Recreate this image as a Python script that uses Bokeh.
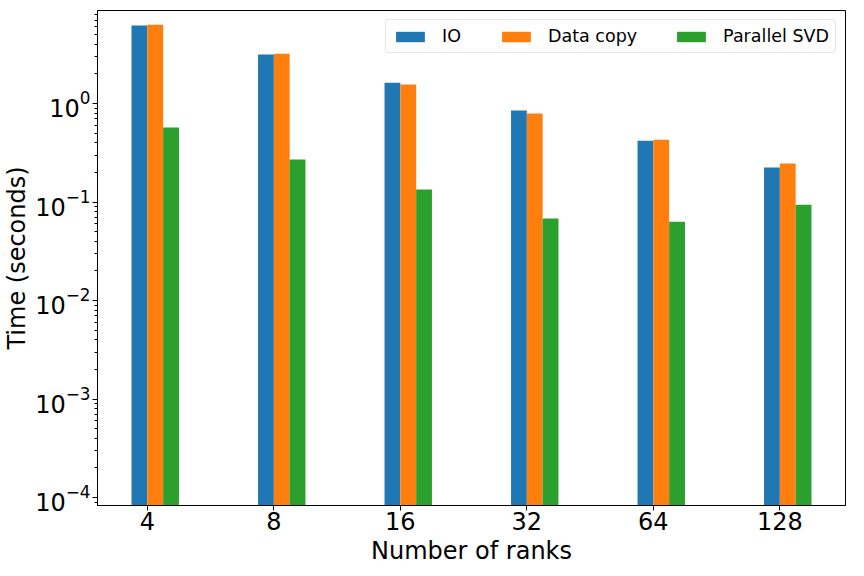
from bokeh.plotting import figure
from bokeh.models import Range1d, ColumnDataSource, Legend, LegendItem, FixedTicker
from bokeh.transform import dodge
from bokeh.embed import file_html
from bokeh.resources import INLINE

ranks = ["4", "8", "16", "32", "64", "128"]
io_time = [6.2, 3.15, 1.63, 0.85, 0.42, 0.224]
copy_time = [6.3, 3.2, 1.56, 0.79, 0.43, 0.246]
svd_time = [0.57, 0.27, 0.134, 0.068, 0.063, 0.094]
series_names = ["IO", "Data copy", "Parallel SVD"]
colors = ["#1f77b4", "#ff7f0e", "#2ca02c"]

FONT = "DejaVu Sans"
BAR_W = 0.125

pos = list(range(len(ranks)))
src = ColumnDataSource(dict(pos=pos, io=io_time, copy=copy_time, svd=svd_time))

p = figure(
    width=848, height=567,
    x_range=Range1d(-0.394, 5.519),
    y_range=Range1d(8.3e-5, 8.8),
    y_axis_type="log",
    output_backend="svg", toolbar_location=None,
    min_border_left=94, min_border_right=3, min_border_top=10, min_border_bottom=62,
)

renderers = []
for key, off, col in zip(["io", "copy", "svd"], [-0.5 * BAR_W, 0.5 * BAR_W, 1.5 * BAR_W], colors):
    r = p.vbar(x=dodge("pos", off), top=key, bottom=1e-6, width=BAR_W,
               source=src, fill_color=col, line_color=None)
    renderers.append(r)

legend = Legend(items=[LegendItem(label=n, renderers=[r]) for n, r in zip(series_names, renderers)],
                location="top_right", orientation="horizontal")
legend.label_text_font = FONT
legend.label_text_font_size = "17.5px"
legend.label_text_color = "black"
legend.glyph_width = 36
legend.glyph_height = 13
legend.label_standoff = 14
legend.spacing = 36
legend.padding = 6
legend.margin = 9
legend.label_height = 19
legend.border_line_color = "#cccccc"
legend.border_line_width = 1
legend.background_fill_alpha = 0.8
if "border_radius" in legend.properties():
    legend.border_radius = 4
p.add_layout(legend)

p.xgrid.visible = False
p.ygrid.visible = False
p.outline_line_color = "black"
p.outline_line_width = 1

p.xaxis.ticker = FixedTicker(ticks=pos)
p.xaxis.major_label_overrides = {i: r for i, r in zip(pos, ranks)}
p.xaxis.minor_tick_line_color = None

for ax in (p.xaxis, p.yaxis):
    ax.axis_line_color = "black"
    ax.major_tick_line_color = "black"
    ax.major_tick_out = 5
    ax.major_tick_in = 0
    ax.major_label_text_font = FONT
    ax.major_label_text_font_size = "24px"
    ax.major_label_text_color = "black"
    ax.axis_label_text_font = FONT
    ax.axis_label_text_font_size = "24px"
    ax.axis_label_text_font_style = "normal"
    ax.axis_label_text_color = "black"

p.yaxis.minor_tick_line_color = "black"
p.yaxis.minor_tick_out = 3
p.yaxis.minor_tick_in = 0
p.xaxis.axis_label = "Number of ranks"
p.yaxis.axis_label = "Time (seconds)"
p.xaxis.major_label_standoff = 1
p.yaxis.major_label_standoff = 2
p.xaxis.axis_label_standoff = 4
p.yaxis.axis_label_standoff = 1

open("out.html", "w").write(file_html(p, INLINE))
